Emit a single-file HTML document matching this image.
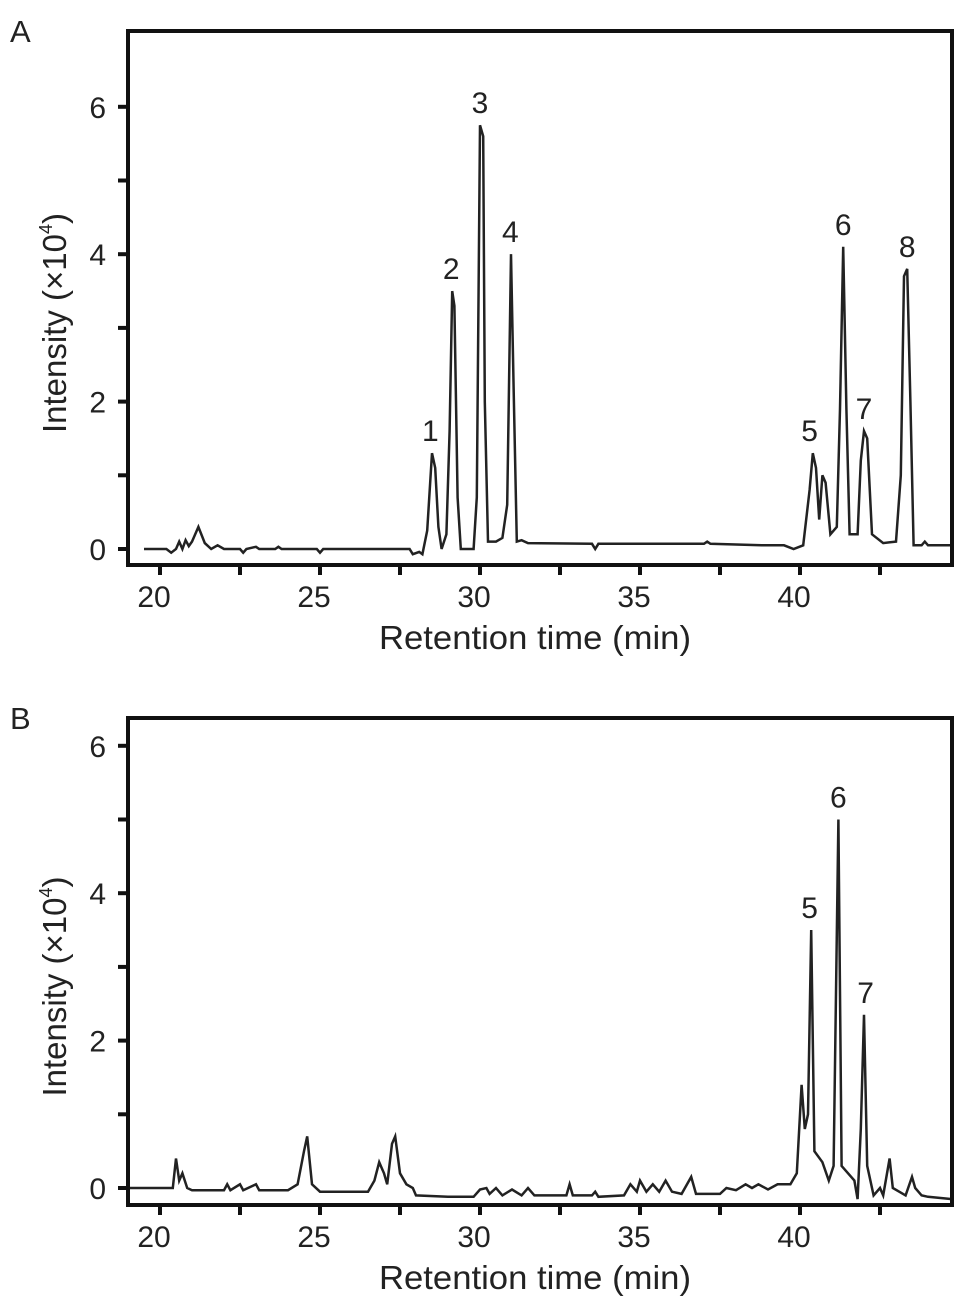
<!DOCTYPE html>
<html><head><meta charset="utf-8"><style>
html,body{margin:0;padding:0;background:#fff;}
svg{display:block;font-family:"Liberation Sans",Arial,sans-serif;}
</style></head><body>
<svg id="fig" width="969" height="1315" viewBox="0 0 969 1315"></svg>
<script>
// ---- data ----
const xTicksMajor = [20, 25, 30, 35, 40];
const xTicksMinor = [22.5, 27.5, 32.5, 37.5, 42.5];
const yTicksMajor = [0, 2, 4, 6];
const yTicksMinor = [1, 3, 5];
const traceA = [[19.5,0],[20.2,0],[20.35,-0.05],[20.5,0],[20.6,0.1],[20.7,0],[20.8,0.12],[20.9,0.04],[21.0,0.1],[21.2,0.3],[21.4,0.08],[21.6,0],[21.8,0.05],[22.0,0],[22.5,0],[22.6,-0.05],[22.7,0],[23.0,0.03],[23.1,0],[23.6,0],[23.7,0.03],[23.8,0],[24.9,0],[25.0,-0.05],[25.1,0],[27.8,0],[27.9,-0.07],[28.1,-0.04],[28.2,-0.07],[28.35,0.25],[28.5,1.3],[28.6,1.1],[28.7,0.3],[28.8,0],[28.95,0.2],[29.05,1.6],[29.13,3.5],[29.2,3.3],[29.3,0.7],[29.4,0],[29.8,0],[29.9,0.7],[30.0,5.75],[30.1,5.6],[30.15,2],[30.25,0.1],[30.5,0.1],[30.7,0.15],[30.85,0.6],[30.97,4.0],[31.05,2.2],[31.15,0.1],[31.3,0.12],[31.5,0.08],[33.5,0.07],[33.6,0.0],[33.7,0.07],[37.0,0.07],[37.1,0.1],[37.2,0.07],[38.8,0.05],[39.5,0.05],[39.8,0.0],[40.1,0.05],[40.3,0.8],[40.4,1.3],[40.5,1.1],[40.6,0.4],[40.7,1.0],[40.8,0.9],[40.95,0.2],[41.15,0.3],[41.25,1.9],[41.35,4.1],[41.45,1.9],[41.55,0.2],[41.8,0.2],[41.9,1.2],[42.0,1.6],[42.1,1.5],[42.25,0.2],[42.6,0.08],[43.0,0.1],[43.15,1.0],[43.25,3.7],[43.35,3.8],[43.45,2.0],[43.55,0.05],[43.8,0.05],[43.9,0.1],[44.0,0.05],[44.75,0.05]];
const traceB = [[19.0,2.0],[19.02,0],[20.4,0],[20.5,0.4],[20.6,0.1],[20.7,0.2],[20.85,0],[21.0,-0.03],[22.0,-0.03],[22.1,0.05],[22.2,-0.03],[22.5,0.05],[22.6,-0.03],[23.0,0.05],[23.1,-0.03],[24.0,-0.03],[24.3,0.05],[24.5,0.5],[24.6,0.7],[24.75,0.05],[25.0,-0.05],[26.5,-0.05],[26.7,0.1],[26.85,0.35],[27.0,0.2],[27.1,0.05],[27.25,0.6],[27.35,0.7],[27.5,0.2],[27.7,0.05],[27.9,0.0],[28.0,-0.1],[29.0,-0.12],[29.8,-0.12],[30.0,-0.02],[30.2,0.0],[30.3,-0.08],[30.5,0.0],[30.7,-0.1],[31.0,-0.02],[31.3,-0.1],[31.5,0.0],[31.7,-0.1],[32.7,-0.1],[32.8,0.05],[32.9,-0.1],[33.5,-0.1],[33.6,-0.05],[33.7,-0.12],[34.5,-0.1],[34.7,0.05],[34.9,-0.05],[35.0,0.1],[35.2,-0.05],[35.4,0.05],[35.6,-0.05],[35.8,0.1],[36.0,-0.05],[36.3,-0.08],[36.6,0.15],[36.75,-0.08],[37.5,-0.08],[37.7,0.0],[38.0,-0.03],[38.3,0.05],[38.5,0.0],[38.7,0.05],[39.0,-0.02],[39.3,0.05],[39.7,0.05],[39.9,0.2],[40.05,1.4],[40.15,0.8],[40.25,1.0],[40.35,3.5],[40.45,0.5],[40.7,0.35],[40.9,0.1],[41.05,0.3],[41.2,5.0],[41.3,0.3],[41.7,0.1],[41.8,-0.15],[41.9,0.8],[42.0,2.35],[42.1,0.3],[42.3,-0.1],[42.5,0.0],[42.6,-0.1],[42.8,0.4],[42.9,0.0],[43.1,-0.05],[43.3,-0.1],[43.5,0.15],[43.6,0.0],[43.8,-0.1],[44.0,-0.12],[44.75,-0.15]];
const labelsA = ["1","2","3","4","5","6","7","8"];
const labelTimesA = [28.45, 29.1, 30.0, 30.95, 40.3, 41.35, 42.0, 43.35];
const labelHeightsA = [1.3, 3.5, 5.75, 4.0, 1.3, 4.1, 1.6, 3.8];
const labelsB = ["5","6","7"];
const labelTimesB = [40.3, 41.2, 42.05];
const labelHeightsB = [3.5, 5.0, 2.35];

const NS = "http://www.w3.org/2000/svg";
const svg = document.getElementById('fig');
function mk(tag, attrs, parent){const e=document.createElementNS(NS,tag);for(const k in attrs)e.setAttribute(k,attrs[k]);(parent||svg).appendChild(e);return e;}

function panel(id, top, bottom, zeroY, trace, labels, lt, lh, letter, letterY){
  const left=128, right=952;
  const xS = t => 160 + (t-20)*32;
  const yS = v => zeroY - v*73.7;
  const g = mk('g',{});
  
  
  const L = mk('text',{x:10,y:letterY,'font-size':31,fill:'#222'},g);
  L.textContent=letter;
  
  
  xTicksMajor.concat(xTicksMinor).forEach(t=>{
    const tk=mk('line',{x1:xS(t),x2:xS(t),y1:bottom,y2:bottom+10,stroke:'#111','stroke-width':4},g);
    
    
  });
  xTicksMajor.forEach(t=>{
    const tx=mk('text',{x:xS(t)-6,y:bottom+42,'font-size':30,'text-anchor':'middle',fill:'#222'},g);
    tx.textContent=t;
    
    
  });
  yTicksMajor.concat(yTicksMinor).forEach(v=>{
    const tk=mk('line',{x1:left-10,x2:left,y1:yS(v),y2:yS(v),stroke:'#111','stroke-width':4},g);
    
    
  });
  yTicksMajor.forEach(v=>{
    const tx=mk('text',{x:106,y:yS(v)+11,'font-size':30,'text-anchor':'end',fill:'#222'},g);
    tx.textContent=v;
    
    
  });
  const pts = trace.map(p=>xS(p[0]).toFixed(1)+','+yS(p[1]).toFixed(1)).join(' ');
  const pl = mk('polyline',{points:pts,fill:'none',stroke:'#222','stroke-width':2.5,'stroke-linejoin':'miter'},g);
  
  
  labels.forEach((s,i)=>{
    const tx=mk('text',{x:xS(lt[i]),y:yS(lh[i])-12,'font-size':30,'text-anchor':'middle',fill:'#222'},g);
    tx.textContent=s;
    
    
  });
  const fr=mk('rect',{x:left,y:top,width:right-left,height:bottom-top,fill:'none',stroke:'#111','stroke-width':4},g);
  
  
  const xt=mk('text',{x:535,y:bottom+84,'font-size':33,'text-anchor':'middle',fill:'#222',textLength:312,lengthAdjust:'spacingAndGlyphs'},g);
  xt.textContent='Retention time (min)';
  
  
  const cy=(top+bottom)/2+25;
  const yt=mk('text',{x:0,y:0,'font-size':33,'text-anchor':'middle',fill:'#222',transform:'translate(66,'+cy+') rotate(-90)'},g);
  yt.innerHTML='Intensity (×10<tspan font-size="18" dy="-14">4</tspan><tspan dy="14">)</tspan>';
  
  
}
panel('a', 31, 565, 549, traceA, labelsA, labelTimesA, labelHeightsA, 'A', 42);
panel('b', 718, 1205, 1188, traceB, labelsB, labelTimesB, labelHeightsB, 'B', 729);
</script>
</body></html>
